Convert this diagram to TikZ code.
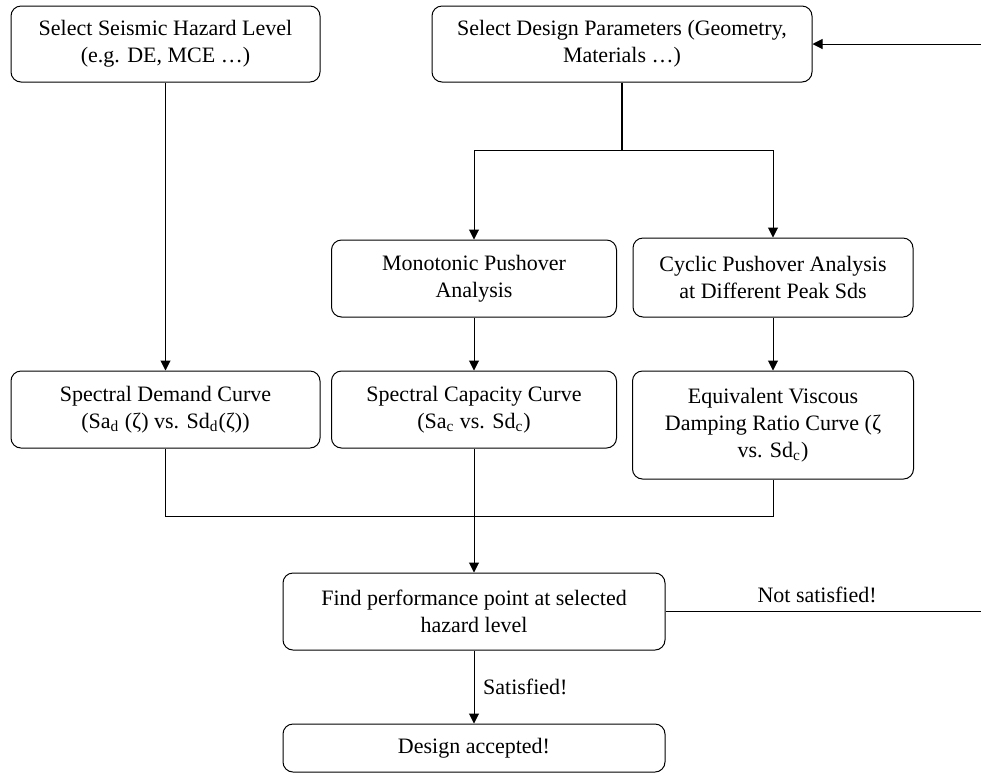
\documentclass[tikz,border=0pt]{standalone}
\usepackage{fontspec}
\setmainfont{Liberation Serif}
\usepackage{tikz}
\usetikzlibrary{arrows.meta,positioning,calc}

\begin{document}
\begin{tikzpicture}[x=0.5pt, y=-0.5pt, line width=0.5pt,
  every node/.style={font=\fontsize{11}{13.6}\selectfont},
  stepbox/.style={draw, rounded corners=5pt, align=center, inner sep=0pt},
  arr/.style={-{Triangle[length=5pt,width=5pt]}}]
\useasboundingbox (0,0) rectangle (981,773);
\clip (0,0) rectangle (981,773);
% boxes
\node[stepbox, minimum width=309pt*0.5, minimum height=76pt*0.5] (hazard) at (165.5,44)
  {Select Seismic Hazard Level\\(e.g. DE, MCE …)};
\node[stepbox, minimum width=380pt*0.5, minimum height=76pt*0.5] (param) at (622,44)
  {Select Design Parameters (Geometry,\\Materials …)};
\node[stepbox, minimum width=285pt*0.5, minimum height=77pt*0.5] (mono) at (474,278.5)
  {Monotonic Pushover\\Analysis};
\node[stepbox, minimum width=280pt*0.5, minimum height=79pt*0.5] (cyclic) at (773,277.5)
  {Cyclic Pushover Analysis\\at Different Peak Sds};
\node[stepbox, minimum width=309pt*0.5, minimum height=77pt*0.5] (demand) at (165.5,409.5)
  {Spectral Demand Curve\\(Sa\textsubscript{d} (ζ) vs. Sd\textsubscript{d}(ζ))};
\node[stepbox, minimum width=285pt*0.5, minimum height=77pt*0.5] (capacity) at (474,409.5)
  {Spectral Capacity Curve\\(Sa\textsubscript{c} vs. Sd\textsubscript{c})};
\node[stepbox, minimum width=281pt*0.5, minimum height=108pt*0.5] (damping) at (773,425)
  {Equivalent Viscous\\Damping Ratio Curve (ζ\\vs. Sd\textsubscript{c})};
\node[stepbox, minimum width=382pt*0.5, minimum height=77pt*0.5] (perf) at (474,611.5)
  {Find performance point at selected\\hazard level};
\node[stepbox, minimum width=382pt*0.5, minimum height=48pt*0.5] (accept) at (474,748)
  {Design accepted!};
% junctions
\coordinate (split) at (622,150);
\coordinate (merge) at (474,516);
\coordinate (loop) at (995,611.5);
% connectors
\draw[arr] (hazard) -- (demand);
\draw[line width=0.8pt] (param) -- (split);
\draw[arr] (split) -| (mono.north);
\draw[arr] (split) -| (cyclic.north);
\draw[arr] (mono) -- (capacity);
\draw[arr] (cyclic) -- (damping);
\draw (demand.south) |- (merge) -| (damping.south);
\draw[arr] (capacity) -- (perf);
\draw[arr] (perf) -- node[right, xshift=1pt] {Satisfied!} (accept);
\draw[arr] (perf.east) -- node[above, pos=0.46, yshift=1pt] {Not satisfied!} (loop) |- (param.east);
\end{tikzpicture}
\end{document}
